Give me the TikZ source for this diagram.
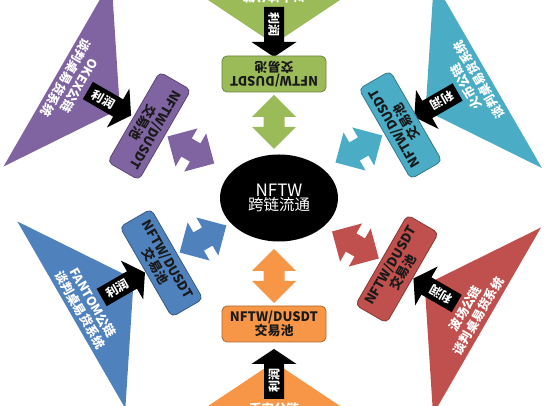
\documentclass[tikz,border=0pt]{standalone}
\usepackage{fontspec}
\setmainfont{Noto Sans CJK SC}
\usepackage{xcolor}
\usepackage{tikz}
\usetikzlibrary{shapes.geometric}
\definecolor{nforange}{HTML}{F79646}
\definecolor{nfred}{HTML}{C0504D}
\definecolor{nfcyan}{HTML}{4BACC6}
\definecolor{nfgreen}{HTML}{9BBB59}
\definecolor{nfpurple}{HTML}{8064A2}
\definecolor{nfblue}{HTML}{4F81BD}
\definecolor{ink}{HTML}{1A1A1A}
\tikzset{
  hub/.style={ellipse, fill=black, text=white, minimum width=118pt, minimum height=87pt, inner sep=0pt, align=center},
  pool/.style={draw=#1!70!black, line width=0.8pt, fill=#1, rounded corners=5pt, minimum width=104pt, minimum height=36pt, inner sep=0pt, align=center, text=ink, font=\fontsize{13}{14}\selectfont\bfseries, transform shape},
  gain/.style={fill=black},
  gainlab/.style={text=white, inner sep=0pt, rotate=90, transform shape, font=\fontsize{12}{12}\selectfont\bfseries},
  chainlab/.style={text=white, inner sep=0pt, align=center, transform shape, font=\fontsize{12.5}{15}\selectfont\bfseries},
}

\begin{document}
\begin{tikzpicture}[x=1pt, y=1pt]
  \useasboundingbox (0,0) rectangle (551,406);
  \clip (0,0) rectangle (551,406);
  \coordinate (O) at (274,208);
  % six spokes round the hub: angle/colour/chain/inner shift/outer shift
  \foreach \ang/\col/\chain/\din/\dout in {0/nforange/币安公链/0/4,
      60/nfred/波场公链/16/14, 120/nfcyan/火币公链/20/15,
      180/nfgreen/以太坊公链/-2/-6, 240/nfpurple/OKEX公链/18/18,
      300/nfblue/FANTOM公链/4/2}{
    \begin{scope}[shift={(O)}, rotate=\ang]
      \begin{scope}[shift={(0,-\dout)}]
        \fill[\col] (0,-160) -- (108,-232) -- (-108,-232) -- cycle;
        \node[chainlab] (chain\ang) at (0,-214.5) {\chain\\谈判桌易货系统};
        \fill[gain] (0,-147) -- (22.5,-162) -- (10,-162) -- (10,-197)
          -- (-10,-197) -- (-10,-162) -- (-22.5,-162) -- cycle;
        \node[gainlab] (gain\ang) at (0,-179) {利润};
      \end{scope}
      \begin{scope}[shift={(0,-\din)}]
        \node[pool=\col] (pool\ang) at (0,-126) {NFTW/DUSDT\\交易池};
        \fill[\col] (0,-51) -- (22,-73) -- (10.5,-73) -- (10.5,-83) -- (22,-83)
          -- (0,-105) -- (-22,-83) -- (-10.5,-83) -- (-10.5,-73) -- (-22,-73) -- cycle;
      \end{scope}
    \end{scope}
  }
  \node[hub] (hub) at (279,208) {\fontsize{17}{21}\selectfont NFTW\\
    \fontsize{15.5}{19}\selectfont 跨链流通};
\end{tikzpicture}
\end{document}
